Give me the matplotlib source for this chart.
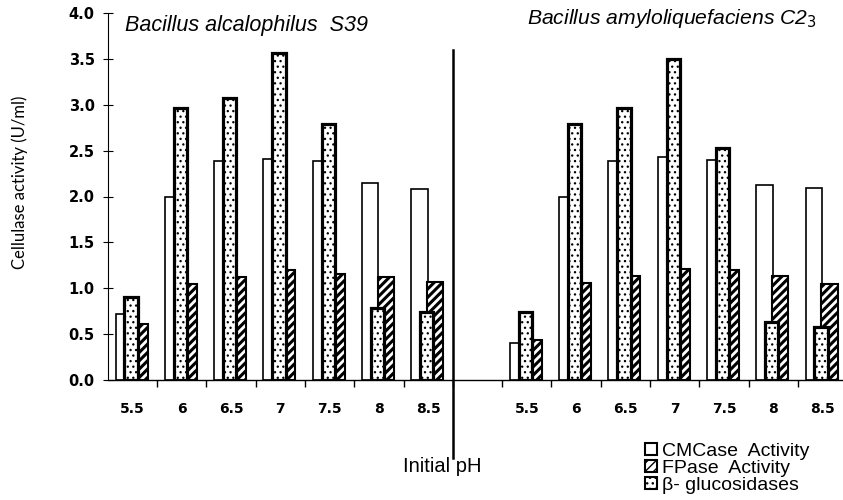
import numpy as np
import matplotlib.pyplot as plt
from matplotlib.patches import Patch

ph = ["5.5", "6", "6.5", "7", "7.5", "8", "8.5"]

# Bacillus alcalophilus S39
cmcase_s39 = [0.72, 2.00, 2.39, 2.41, 2.39, 2.15, 2.08]
fpase_s39 = [0.61, 1.05, 1.12, 1.20, 1.16, 1.12, 1.07]
bgluc_s39 = [0.91, 2.96, 3.07, 3.56, 2.79, 0.79, 0.74]

# Bacillus amyloliquefaciens C2_3
cmcase_c23 = [0.40, 2.00, 2.39, 2.43, 2.40, 2.13, 2.09]
fpase_c23 = [0.44, 1.06, 1.13, 1.21, 1.20, 1.13, 1.05]
bgluc_c23 = [0.74, 2.79, 2.97, 3.50, 2.53, 0.63, 0.58]

plt.rcParams['font.family'] = ['Liberation Sans', 'DejaVu Sans']


def hatch_lw(bars, lw):
    for p in bars:
        if hasattr(p, 'set_hatch_linewidth'):
            p.set_hatch_linewidth(lw)


fig = plt.figure(figsize=(8.43, 5), dpi=100)
ax = fig.add_axes([0.128, 0.24, 0.877, 0.734])

groups = ((0, cmcase_s39, fpase_s39, bgluc_s39),
          (8, cmcase_c23, fpase_c23, bgluc_c23))
centers = []
for offset, cm, fp, bg in groups:
    x = np.arange(len(ph)) + 0.5 + offset
    centers.extend(x)
    ax.bar(x - 0.18, cm, width=0.33, facecolor='white', edgecolor='black',
           linewidth=1.2, zorder=2)
    with plt.rc_context({'hatch.linewidth': 2.2}):
        b = ax.bar(x + 0.14, fp, width=0.33, facecolor='white',
                   edgecolor='black', hatch='////', linewidth=1.5, zorder=3)
    hatch_lw(b, 2.2)
    with plt.rc_context({'hatch.linewidth': 0.9}):
        b = ax.bar(x - 0.03, bg, width=0.27, facecolor='white',
                   edgecolor='black', hatch='...', linewidth=2.3, zorder=4)
    hatch_lw(b, 0.9)

ax.set_xlim(0, 15)
ax.set_ylim(0, 4)

# divider between the two strains
ax.plot([7, 7], [3.6, -0.85], color='black', lw=1.8, clip_on=False, zorder=5)

ax.spines['top'].set_visible(False)
ax.spines['right'].set_visible(False)
ax.spines['left'].set_linewidth(0.8)
ax.spines['bottom'].set_linewidth(1.0)

ax.set_xticks(list(range(1, 8)) + list(range(8, 15)))
ax.set_xticklabels([])
ax.tick_params(axis='x', which='major', direction='out', length=5, width=1.0)
ax.set_xticks(centers, minor=True)
ax.set_xticklabels(ph + ph, minor=True)
ax.tick_params(axis='x', which='minor', length=0, pad=16)
for lab in ax.get_xticklabels(minor=True):
    lab.set_fontfamily('DejaVu Sans')
    lab.set_fontweight('bold')
    lab.set_fontsize(10)

yt = np.arange(0, 4.01, 0.5)
ax.set_yticks(yt)
ax.set_yticklabels([f"{v:.1f}" for v in yt])
ax.tick_params(axis='y', direction='inout', length=7, width=0.8, pad=6)
for lab in ax.get_yticklabels():
    lab.set_fontfamily('DejaVu Sans')
    lab.set_fontweight('bold')
    lab.set_fontsize(10.5)

fig.text(125 / 843, 1 - 25 / 500, "Bacillus alcalophilus  S39",
         style='italic', fontsize=15.5, va='center', ha='left')
fig.text(527 / 843, 1 - 18 / 500, r"Bacillus amyloliquefaciens C2$_3$",
         style='italic', fontsize=15.2, va='center', ha='left')
fig.text(20 / 843, 1 - 182 / 500, "Cellulase activity (U/ml)",
         rotation=90, fontsize=12, va='center', ha='center', family='Lato')
fig.text(403 / 843, 1 - 467 / 500, "Initial pH", fontsize=14.5,
         va='center', ha='left')

handles = [
    Patch(facecolor='white', edgecolor='black', linewidth=1.5,
          label='CMCase  Activity'),
    Patch(facecolor='white', edgecolor='black', hatch='////', linewidth=1.5,
          label='FPase  Activity'),
    Patch(facecolor='white', edgecolor='black', hatch='...', linewidth=1.5,
          label='β- glucosidases'),
]
fig.legend(handles=handles, loc='upper left',
           bbox_to_anchor=(645 / 843, 1 - 443 / 500), frameon=False,
           handlelength=0.6, handleheight=0.6, handletextpad=0.25,
           labelspacing=0.0, fontsize=14, borderpad=0, borderaxespad=0)

fig.savefig("out.png", dpi=100)
